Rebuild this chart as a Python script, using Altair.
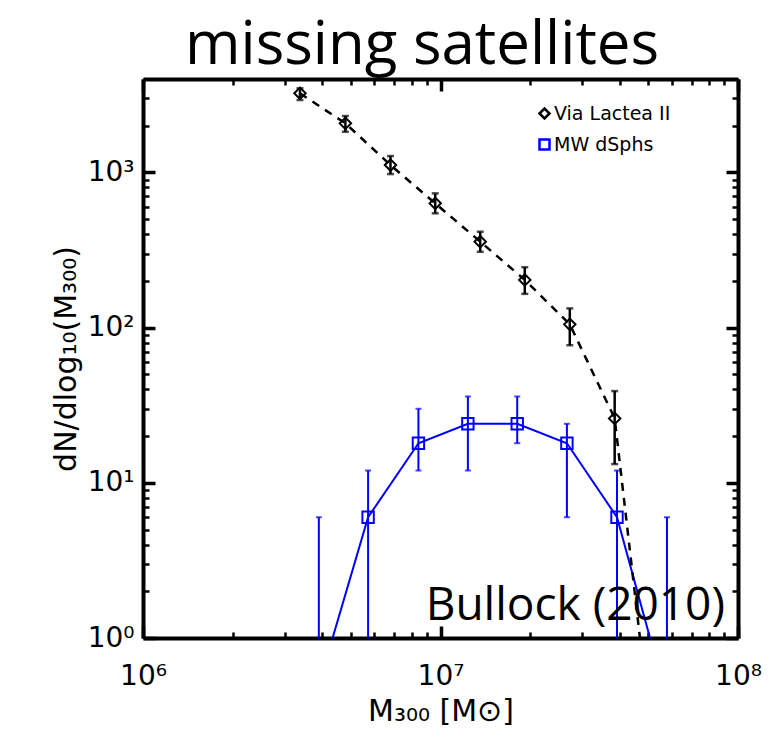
import altair as alt
import pandas as pd

# ---------------- data ----------------
# Via Lactea II (black diamonds, dashed line)
vl_m300 = [3.37e6, 4.79e6, 6.79e6, 9.60e6, 1.36e7, 1.92e7, 2.72e7, 3.85e7, 5.45e7]
vl_dn = [3235, 2072, 1116, 632, 358, 203, 105, 26, 0.08]
vl_hi = [3483, 2309, 1275, 733, 415, 245, 133, 39, None]
vl_lo = [2928, 1829, 976, 545, 308, 165, 77, 13.2, None]

# MW dSphs (blue squares, solid line)
mw_m300 = [3.90e6, 5.71e6, 8.43e6, 1.236e7, 1.811e7, 2.66e7, 3.92e7, 5.77e7]
mw_dn = [0.5, 6, 18, 24, 24, 18, 6, 0.4]
mw_hi = [6, 12, 30, 36, 36, 24, 12, 6]
mw_lo = [0, 0, 12, 12, 18, 6, 0, 0]

series_names = ["Via Lactea II", "MW dSphs"]

x_major = [1e6, 1e7, 1e8]
x_minor = [2e6, 3e6, 4e6, 5e6, 6e6, 7e6, 8e6, 9e6,
           2e7, 3e7, 4e7, 5e7, 6e7, 7e7, 8e7, 9e7]
y_major = [1, 10, 100, 1000]
y_minor = [2, 3, 4, 5, 6, 7, 8, 9,
           20, 30, 40, 50, 60, 70, 80, 90,
           200, 300, 400, 500, 600, 700, 800, 900,
           2000, 3000, 4000]

title_text = ["missing satellites"]
note_text = ["Bullock (2010)"]

# ---------------- tables ----------------
black = pd.DataFrame({"m": vl_m300, "dn": vl_dn, "hi": vl_hi, "lo": vl_lo})
blue = pd.DataFrame({"m": mw_m300, "dn": mw_dn, "hi": mw_hi, "lo": mw_lo})
pts = pd.concat([
    black.iloc[:-1].assign(series=series_names[0]),
    blue.iloc[1:-1].assign(series=series_names[1]),
])
note = pd.DataFrame({"t": note_text})
ttl = pd.DataFrame({"t": title_text})

# ---------------- styling ----------------
W, H = 595, 559
FONT = "DejaVu Sans"
BIG = "Open Sans"
BLUE = "#0000ff"

xscale = alt.Scale(type="log", domain=[1e6, 1e8], nice=False)
yscale = alt.Scale(type="log", domain=[1, 4000], nice=False)

sup = "['⁰','¹','²','³','⁴','⁵','⁶','⁷','⁸','⁹'][round(log(datum.value)/LN10)]"
label_expr = f"'10' + {sup}"


def lab_axis(orient, values, title, pad, tpad):
    return alt.Axis(orient=orient, values=values, labelExpr=label_expr,
                    ticks=False, tickSize=0, domain=False, grid=False,
                    labelFont=FONT, labelFontSize=28, labelColor="black",
                    labelPadding=pad, labelOverlap=False, labelFlush=False,
                    title=title, titleFont=FONT, titleFontSize=30,
                    titleFontWeight="normal", titleColor="black",
                    titlePadding=tpad)


def tick_axis(orient, values, offset, size, width, dom):
    return alt.Axis(orient=orient, values=values, offset=offset,
                    labels=False, grid=False, ticks=True,
                    domain=dom, domainWidth=4, domainColor="black",
                    tickSize=size, tickWidth=width,
                    tickColor="black", title="")


AX = {
    "x_lab": lab_axis("bottom", x_major, "M₃₀₀ [M⊙]", 24, 6),
    "x_inB_M": tick_axis("top", x_major, -H, 12, 3.5, True),
    "x_inT_M": tick_axis("bottom", x_major, -H, 12, 3.5, True),
    "x_inB_m": tick_axis("top", x_minor, -H, 6, 2.5, False),
    "x_inT_m": tick_axis("bottom", x_minor, -H, 6, 2.5, False),
    "y_lab": lab_axis("left", y_major, "dN/dlog₁₀(M₃₀₀)", 9, 6),
    "y_inL_M": tick_axis("right", y_major, -W, 12, 3.5, True),
    "y_inR_M": tick_axis("left", y_major, -W, 12, 3.5, True),
    "y_inL_m": tick_axis("right", y_minor, -W, 6, 2.5, False),
    "y_inR_m": tick_axis("left", y_minor, -W, 6, 2.5, False),
}


def X(field, key=None):
    return alt.X(f"{field}:Q", scale=xscale, axis=AX[key] if key else None)


def Y(field, key=None):
    return alt.Y(f"{field}:Q", scale=yscale, axis=AX[key] if key else None)


def err_layers(df, color, sw, cap, keys_r, keys_c):
    base = alt.Chart(df).transform_filter("isValid(datum.hi)").transform_calculate(
        lo_c="max(datum.lo, 0.1)")
    rules = base.mark_rule(color=color, strokeWidth=sw, clip=True).encode(
        x=X("m", keys_r[0]), y=Y("hi", keys_r[1]), y2="lo_c:Q")
    caps = base.transform_fold(["hi", "lo_c"], as_=["k", "v"]).mark_tick(
        orient="horizontal", color=color, size=cap, thickness=sw, clip=True
    ).encode(x=X("m", keys_c[0]), y=Y("v", keys_c[1]))
    return rules, caps


b_rules, b_caps = err_layers(blue, BLUE, 2, 6, ("x_lab", "y_lab"),
                             ("x_inB_M", "y_inL_M"))
k_rules, k_caps = err_layers(black, "black", 2.5, 7, ("x_inT_M", "y_inR_M"),
                             ("x_inB_m", "y_inL_m"))

b_line = alt.Chart(blue).mark_line(color=BLUE, strokeWidth=2, clip=True).encode(
    x=X("m", "x_inT_m"), y=Y("dn", "y_inR_m"))
k_line = alt.Chart(black).mark_line(color="black", strokeWidth=2.5,
                                    strokeDash=[8, 7], clip=True).encode(
    x=X("m"), y=Y("dn"))

legend = alt.Legend(title=None, orient="none", legendX=392, legendY=25,
                    padding=0, labelFont=FONT, labelFontSize=19,
                    labelColor="black", symbolSize=100, symbolStrokeWidth=2.5,
                    rowPadding=10, labelOffset=0)
points = alt.Chart(pts).mark_point(filled=False, strokeWidth=2, size=130,
                                   opacity=1, clip=True).encode(
    x=X("m"), y=Y("dn"),
    color=alt.Color("series:N", scale=alt.Scale(domain=series_names,
                                                range=["black", BLUE]),
                    legend=legend),
    shape=alt.Shape("series:N", scale=alt.Scale(domain=series_names,
                                                range=["diamond", "square"]),
                    legend=legend),
)

note_mark = alt.Chart(note).mark_text(font=BIG, fontSize=46, align="right",
                                      baseline="alphabetic", color="black").encode(
    x=alt.value(582), y=alt.value(541), text="t:N")

title_mark = alt.Chart(ttl).mark_text(font=BIG, fontSize=60, align="center",
                                      baseline="alphabetic", color="black").encode(
    x=alt.value(279), y=alt.value(-15), text="t:N")

chart = alt.layer(
    b_rules, b_caps, k_rules, k_caps, b_line, k_line, points, note_mark,
    title_mark
).resolve_axis(x="independent", y="independent").properties(
    width=W, height=H,
    autosize=alt.AutoSizeParams(type="none"),
    padding={"left": 143, "top": 79, "right": 38, "bottom": 94},
).configure_view(stroke=None).configure(background="white")

chart.save("out.html", embed_options={"renderer": "svg", "actions": False})
